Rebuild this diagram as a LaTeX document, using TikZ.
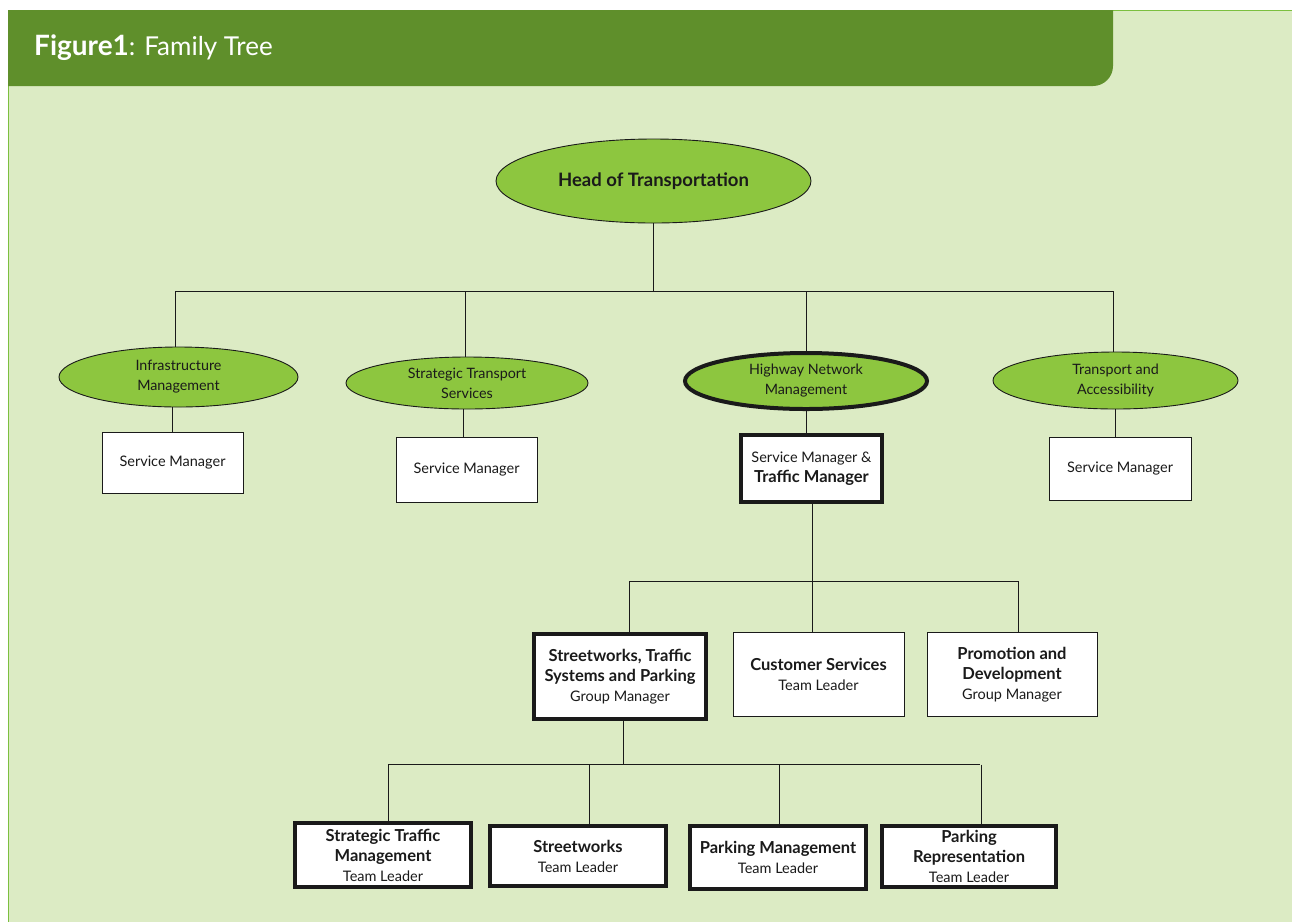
\documentclass[tikz,border=0pt]{standalone}
\usepackage{fontspec}
\setmainfont{Lato}
\usetikzlibrary{shapes.geometric}
\definecolor{hdr}{HTML}{5F8F2B}
\definecolor{panel}{HTML}{DCEBC4}
\definecolor{ellf}{HTML}{8DC63F}
\definecolor{edge}{HTML}{7CBF3F}
\definecolor{ink}{HTML}{1A1A1A}
\newcommand{\bt}[1]{{\bfseries\fontsize{16.5}{20}\selectfont #1}}
\tikzset{
  ell/.style={ellipse, draw=ink, fill=ellf, line width=0.9pt, inner sep=0pt, align=center, text=ink, font=\fontsize{14.3}{20}\selectfont},
  hell/.style={ell, line width=4pt},
  box/.style={rectangle, draw=ink, fill=white, line width=1pt, inner sep=0pt, align=center, text=ink, font=\fontsize{14.5}{20}\selectfont},
  tbox/.style={box, line width=4pt},
  conn/.style={draw=ink, line width=1pt},
}
\begin{document}
\begin{tikzpicture}[x=1pt,y=-1pt]
\useasboundingbox (0,0) rectangle (1292,922);
\fill[white] (0,0) rectangle (1292,922);
\fill[panel] (8,10) rectangle (1292,922);
\draw[edge, line width=1.2pt] (8,10.6) -- (1292,10.6);
\draw[edge, line width=1.2pt] (8.6,10) -- (8.6,922);
\fill[hdr] (8,10) -- (1113,10) -- (1113,66) arc[start angle=0, end angle=90, radius=20] -- (8,86) -- cycle;
\node[anchor=base west, text=white, inner sep=0pt, font=\fontsize{28}{32}\selectfont] (title) at (34,55) {\textbf{Figure1}\fontsize{26}{30}\selectfont: Family Tree};

% level 0
\node[ell, minimum width=315pt, minimum height=84pt, font=\bfseries\fontsize{18.5}{22}\selectfont] (head) at (653.5,181) {\raisebox{-3pt}{Head of Transportation}};

% level 1 ellipses
\node[ell, minimum width=239pt, minimum height=60pt] (e1) at (178.5,377) {Infrastructure\\Management};
\node[ell, minimum width=242pt, minimum height=52pt] (e2) at (467,383) {Strategic Transport\\Services};
\node[hell, minimum width=242pt, minimum height=56pt] (e3) at (806,381) {Highway Network\\Management};
\node[ell, minimum width=245pt, minimum height=57pt] (e4) at (1115.5,380.5) {Transport and\\Accessibility};

% level 1 boxes
\node[box, minimum width=141pt, minimum height=61pt] (s1) at (172.5,462.5) {Service Manager};
\node[box, minimum width=141pt, minimum height=65pt] (s2) at (466.5,469.5) {Service Manager};
\node[tbox, minimum width=141pt, minimum height=67pt] (s3) at (811.5,468.5) {Service Manager \&\\\bt{Traffic Manager}};
\node[box, minimum width=142pt, minimum height=63pt] (s4) at (1120,468.5) {Service Manager};

% level 2
\node[tbox, minimum width=172pt, minimum height=85pt] (g1) at (620,676.5) {\bt{Streetworks, Traffic}\\\bt{Systems and Parking}\\Group Manager};
\node[box, minimum width=171pt, minimum height=84pt] (g2) at (818.5,674.5) {\bt{Customer Services}\\Team Leader};
\node[box, minimum width=170pt, minimum height=84pt] (g3) at (1012,674.5) {\bt{Promotion and}\\\bt{Development}\\Group Manager};

% level 3
\node[tbox, minimum width=176pt, minimum height=64pt] (t1) at (383,855) {\bt{Strategic Traffic}\\\bt{Management}\\Team Leader};
\node[tbox, minimum width=176pt, minimum height=60pt] (t2) at (578,856) {\bt{Streetworks}\\Team Leader};
\node[tbox, minimum width=176pt, minimum height=63pt] (t3) at (778,857.5) {\bt{Parking Management}\\Team Leader};
\node[tbox, minimum width=174pt, minimum height=61pt] (t4) at (969,856.5) {\bt{Parking}\\\bt{Representation}\\Team Leader};

% buses
\coordinate (b1l) at (175,291);
\coordinate (b1r) at (1113,291);
\coordinate (b2l) at (629,581);
\coordinate (b2r) at (1018,581);
\coordinate (b3l) at (388,764);
\coordinate (b3r) at (980,764);

\path[conn] (b1l) -- (b1r);
\path[conn] (head.south) -- (head.south |- b1l);
\path[conn] (b1l) -- (b1l |- e1.north);
\path[conn] (465,291) -- (465,357);
\path[conn] (e3.north |- b1l) -- (e3.north);
\path[conn] (b1r) -- (b1r |- e4.north);

\path[conn] (s1.north) -- (s1.north |- e1.south);
\path[conn] (463,437) -- (463,409);
\path[conn] (e3.south |- s3.north) -- (e3.south);
\path[conn] (1115,437) -- (1115,409);

\path[conn] (812,504) -- (812,633);
\path[conn] (b2l) -- (b2r);
\path[conn] (b2l) -- (b2l |- g1.north);
\path[conn] (b2r) -- (b2r |- g3.north);

\path[conn] (623,721) -- (623,764);
\path[conn] (b3l) -- (b3r);
\path[conn] (b3l) -- (b3l |- t1.north);
\path[conn] (589,764) -- (589,824);
\path[conn] (779,764) -- (779,824);
\path[conn] (981,764.5) -- (981,824);
\end{tikzpicture}
\end{document}
